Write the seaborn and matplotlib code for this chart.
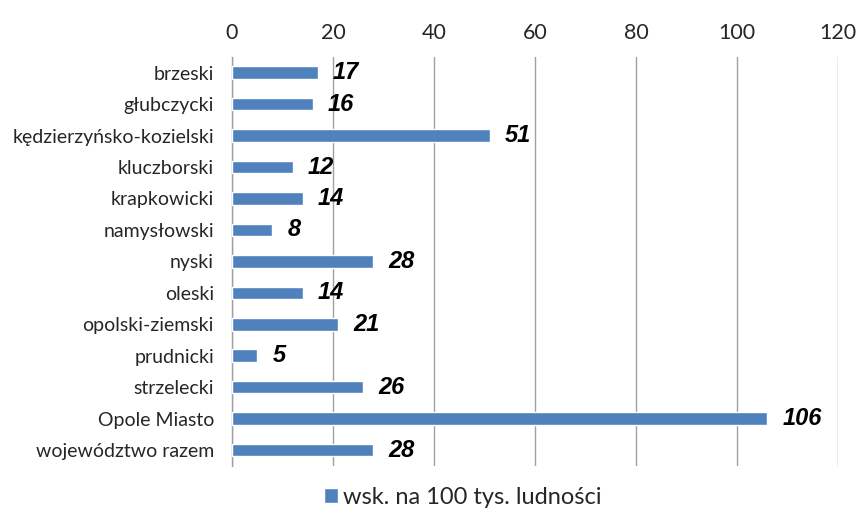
import numpy as np
import pandas as pd
import matplotlib.pyplot as plt
import seaborn as sns

# Dane
powiaty = ['brzeski', 'głubczycki', 'kędzierzyńsko-kozielski', 'kluczborski',
           'krapkowicki', 'namysłowski', 'nyski', 'oleski', 'opolski-ziemski',
           'prudnicki', 'strzelecki', 'Opole Miasto', 'województwo razem']
wskaznik = [17, 16, 51, 12, 14, 8, 28, 14, 21, 5, 26, 106, 28]
seria = 'wsk. na 100 tys. ludności'

df = pd.DataFrame({'powiat': powiaty, 'wsk': wskaznik})

sns.set_style('white')
plt.rcParams['font.family'] = ['Lato', 'DejaVu Sans']

fig = plt.figure(figsize=(8.58, 5.13), dpi=100)
ax = fig.add_axes([0.2704, 0.092, 0.7063, 0.797])

sns.barplot(data=df, x='wsk', y='powiat', color='#4F81BD', width=0.4,
            saturation=1, ax=ax, label=seria, zorder=3)

ax.set_xlim(0, 120)
ax.set_xticks(np.arange(0, 121, 20))
ax.xaxis.tick_top()
ax.tick_params(axis='x', labelsize=15.5, length=0, pad=10)
ax.tick_params(axis='y', labelsize=14, length=0, pad=13)
ax.set_xlabel('')
ax.set_ylabel('')
ax.grid(axis='x', color='#A0A0A0', linewidth=1.0, zorder=0)
for s in ['top', 'right', 'bottom']:
    ax.spines[s].set_visible(False)
ax.spines['left'].set_color('#A0A0A0')
ax.spines['left'].set_linewidth(1.0)

# Etykiety wartości
for i, v in enumerate(wskaznik):
    ax.text(v + 3.0, i, str(v), va='center', ha='left', fontsize=17,
            fontweight='bold', fontstyle='italic', color='black',
            family=['Liberation Sans', 'DejaVu Sans'], zorder=4)

ax.legend(loc='center', bbox_to_anchor=(0.381, -0.0765), frameon=False,
          fontsize=17, handlelength=0.6, handleheight=0.6, handletextpad=0.2,
          borderpad=0)

fig.savefig('out.png', dpi=100)
